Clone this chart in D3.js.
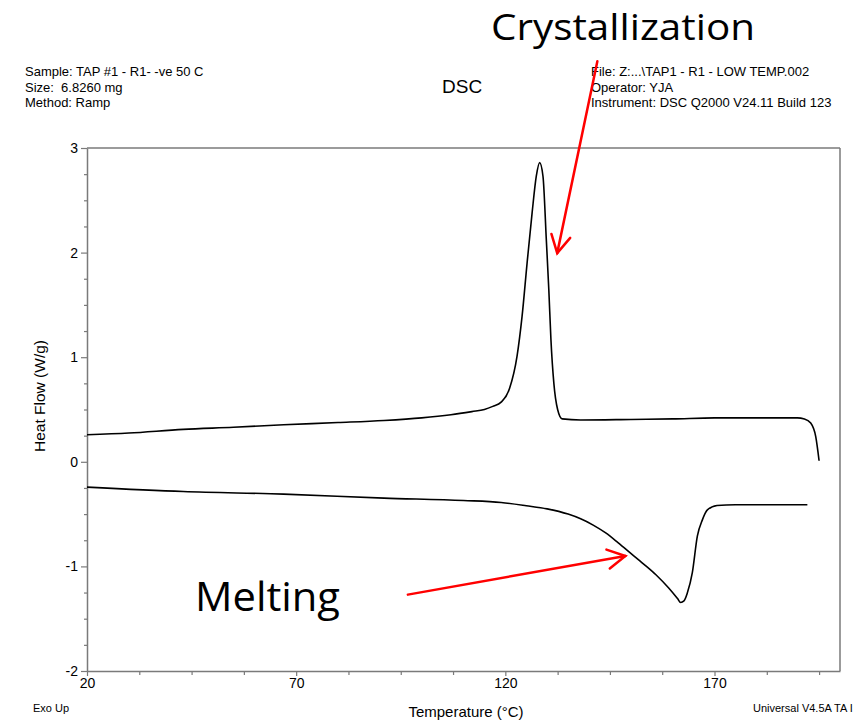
<!doctype html>
<html>
<head>
<style type="text/css">
body { margin: 0; background: white; }
text { font-family: "Liberation Sans", Arial, sans-serif; fill: black; white-space: pre; }
.note { font-family: "Open Sans", "Lato", sans-serif; }
</style>
</head>
<body>
<svg width="864" height="721"></svg>
<script src="https://cdn.jsdelivr.net/npm/d3@7"></script>
<script>
// cooling scan (crystallization peak), temperature ascending
var coolT  = [20, 30, 43, 55, 67, 80, 91, 100, 107, 112, 115, 117, 119, 121, 122.8, 124, 125.2, 126.4, 127.4, 128.2, 129, 129.8, 130.4, 130.9, 131.6, 132.5, 133.6, 138, 150, 160, 170, 180, 189.8, 191.5, 193, 194.2, 195];
var coolHF = [0.258, 0.275, 0.31, 0.33, 0.354, 0.375, 0.395, 0.42, 0.45, 0.48, 0.50, 0.53, 0.57, 0.70, 1.01, 1.39, 1.90, 2.38, 2.73, 2.86, 2.73, 2.12, 1.64, 1.17, 0.75, 0.50, 0.41, 0.40, 0.405, 0.41, 0.42, 0.42, 0.42, 0.41, 0.37, 0.24, 0.01];
// heating scan (melting dip)
var heatT  = [20, 43, 67, 91, 110, 119, 125, 130, 135, 138, 141, 144, 147, 150, 153, 156, 159, 161.2, 161.9, 162.7, 163.5, 164.7, 165.9, 167.1, 168.3, 170.6, 175, 185, 192.2];
var heatHF = [-0.242, -0.284, -0.309, -0.347, -0.37, -0.389, -0.42, -0.45, -0.50, -0.545, -0.605, -0.68, -0.775, -0.875, -0.975, -1.08, -1.205, -1.31, -1.345, -1.33, -1.255, -1.06, -0.71, -0.555, -0.46, -0.418, -0.41, -0.41, -0.41];

var xMajor = [20, 70, 120, 170];
var xMinor = [32.5, 45, 57.5, 82.5, 95, 107.5, 132.5, 145, 157.5, 182.5, 195];
var yMajor = [-2, -1, 0, 1, 2, 3];
var yMinor = d3.range(-2, 3.01, 0.25).filter(function(v){ return v % 1 !== 0; });

var headerLeft  = ["Sample: TAP #1 - R1- -ve 50 C", "Size:  6.8260 mg", "Method: Ramp"];
var headerRight = ["File: Z:...\\TAP1 - R1 - LOW TEMP.002", "Operator: YJA", "Instrument: DSC Q2000 V24.11 Build 123"];

// annotation arrows: [startT, startHF, tipT, tipHF]
var arrowCryst = [142.0, 3.83, 132.4, 1.995];
var arrowMelt  = [96.7, -1.27, 148.7, -0.90];

window.onload = function(){
  var svg = d3.select("svg");

  var x = d3.scaleLinear().domain([20, 200]).range([87, 840]);
  var y = d3.scaleLinear().domain([-2, 3]).range([671, 148]);
  var grey = "#7a7a7a";
  var fmt = function(v){ return String(v); };   // plain hyphen minus like the original

  // frame top & right
  svg.append("line").attr("x1", x(20)).attr("x2", x(200)).attr("y1", y(3)).attr("y2", y(3))
    .attr("stroke", grey).attr("stroke-width", 1.5);
  svg.append("line").attr("x1", x(200)).attr("x2", x(200)).attr("y1", y(3)).attr("y2", y(-2))
    .attr("stroke", grey).attr("stroke-width", 1.5);

  // minor axes
  svg.append("g").attr("transform", "translate(0," + y(-2) + ")")
    .call(d3.axisBottom(x).tickValues(xMinor).tickFormat("").tickSize(4).tickSizeOuter(0))
    .call(function(g){ g.select(".domain").remove(); g.selectAll("line").attr("stroke", grey).attr("stroke-width", 1.2); });
  svg.append("g").attr("transform", "translate(" + x(20) + ",0)")
    .call(d3.axisLeft(y).tickValues(yMinor).tickFormat("").tickSize(3).tickSizeOuter(0))
    .call(function(g){ g.select(".domain").remove(); g.selectAll("line").attr("stroke", grey).attr("stroke-width", 1.2); });

  // major axes
  var xa = svg.append("g").attr("transform", "translate(0," + y(-2) + ")")
    .call(d3.axisBottom(x).tickValues(xMajor).tickFormat(fmt).tickSize(5).tickSizeOuter(0).tickPadding(2));
  var ya = svg.append("g").attr("transform", "translate(" + x(20) + ",0)")
    .call(d3.axisLeft(y).tickValues(yMajor).tickFormat(fmt).tickSize(6).tickSizeOuter(0).tickPadding(3));
  [xa, ya].forEach(function(g){
    g.select(".domain").attr("stroke", grey).attr("stroke-width", 1.5);
    g.selectAll("line").attr("stroke", grey).attr("stroke-width", 1.2);
    g.selectAll("text").style("font-family", "'Liberation Sans', Arial, sans-serif")
      .style("font-size", "14px").attr("fill", "black");
  });

  // curves
  var line = d3.line()
    .x(function(d){ return x(d[0]); })
    .y(function(d){ return y(d[1]); })
    .curve(d3.curveMonotoneX);

  svg.append("path").datum(d3.zip(coolT, coolHF)).attr("d", line)
    .attr("fill", "none").attr("stroke", "black").attr("stroke-width", 1.6);
  svg.append("path").datum(d3.zip(heatT, heatHF)).attr("d", line)
    .attr("fill", "none").attr("stroke", "black").attr("stroke-width", 1.6);

  // header
  svg.selectAll("text.hl").data(headerLeft).enter().append("text").attr("class", "hl")
    .attr("x", 25).attr("y", function(d, i){ return 76 + i * 15.5; })
    .style("font-size", "13px").text(function(d){ return d; });
  svg.selectAll("text.hr").data(headerRight).enter().append("text").attr("class", "hr")
    .attr("x", 591).attr("y", function(d, i){ return 76 + i * 15.5; })
    .style("font-size", "13px").text(function(d){ return d; });
  svg.append("text").attr("x", 442).attr("y", 93).style("font-size", "19px").text("DSC");

  // axis titles
  svg.append("text").attr("transform", "translate(45,396) rotate(-90)")
    .attr("text-anchor", "middle").style("font-size", "15.5px").text("Heat Flow (W/g)");
  svg.append("text").attr("x", 466).attr("y", 717)
    .attr("text-anchor", "middle").style("font-size", "15px").text("Temperature (°C)");
  svg.append("text").attr("x", 33).attr("y", 712).style("font-size", "11px").text("Exo Up");
  svg.append("text").attr("x", 753).attr("y", 712).style("font-size", "11px").text("Universal V4.5A TA I");

  // annotations
  svg.append("text").attr("class", "note").attr("x", 491).attr("y", 40)
    .attr("textLength", 264).attr("lengthAdjust", "spacingAndGlyphs")
    .style("font-size", "37px").text("Crystallization");
  svg.append("text").attr("class", "note").attr("x", 195).attr("y", 611)
    .attr("textLength", 145).attr("lengthAdjust", "spacingAndGlyphs")
    .style("font-size", "40px").text("Melting");

  function arrow(a){
    var x1 = x(a[0]), y1 = y(a[1]), x2 = x(a[2]), y2 = y(a[3]);
    var ang = Math.atan2(y2 - y1, x2 - x1), len = 20, spread = 0.5;
    var g = svg.append("g").attr("stroke", "#ff0000").attr("stroke-width", 2.5)
      .attr("fill", "none").attr("stroke-linecap", "round");
    g.append("line").attr("x1", x1).attr("y1", y1).attr("x2", x2).attr("y2", y2);
    g.append("polyline").attr("points", [
      [x2 - len * Math.cos(ang - spread), y2 - len * Math.sin(ang - spread)],
      [x2, y2],
      [x2 - len * Math.cos(ang + spread), y2 - len * Math.sin(ang + spread)]
    ].map(function(p){ return p.join(","); }).join(" "));
  }
  arrow(arrowCryst);
  arrow(arrowMelt);
};
</script>
</body>
</html>
